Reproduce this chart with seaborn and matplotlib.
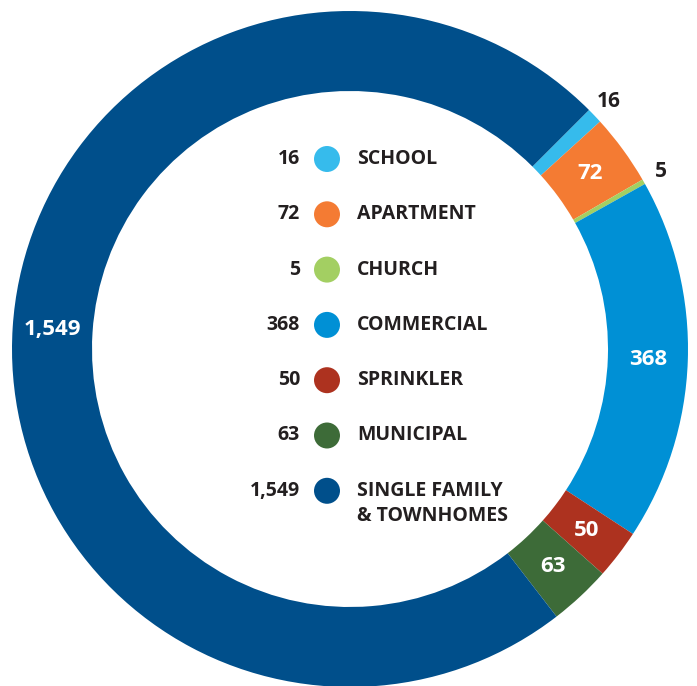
import matplotlib
matplotlib.use("Agg")
import matplotlib.pyplot as plt
import seaborn as sns
import pandas as pd
import numpy as np

categories = ["SCHOOL", "APARTMENT", "CHURCH", "COMMERCIAL", "SPRINKLER", "MUNICIPAL",
              "SINGLE FAMILY\n& TOWNHOMES"]
values = [16, 72, 5, 368, 50, 63, 1549]
value_labels = ["16", "72", "5", "368", "50", "63", "1,549"]
colors = ["#36bbec", "#f47b33", "#a3cf62", "#0090d5", "#ad321f", "#3d6b38", "#004f8b"]
label_outside = [True, False, True, False, False, False, False]

sns.set_theme(style="white")
plt.rcParams["font.family"] = ["Open Sans", "DejaVu Sans"]

W, H = 697, 686
fig = plt.figure(figsize=(W / 100, H / 100), dpi=100)
ax = fig.add_axes([0, 0, 1, 1])

cx, cy = 350, H - 349
R, r = 338, 258
ax.pie(values, colors=colors, radius=R, center=(cx, cy), startangle=45,
       counterclock=False, wedgeprops=dict(width=R - r, linewidth=0), frame=True)

total = sum(values)
cum = 0
text_dark = "#231f20"
for v, lab, out in zip(values, value_labels, label_outside):
    mid = cum + v / 2
    cum += v
    ang = np.deg2rad(45 - mid / total * 360)
    if out:
        rr = 358
        ax.text(cx + rr * np.cos(ang), cy + rr * np.sin(ang), lab, ha="center", va="center",
                fontsize=15, fontweight="bold", color=text_dark)
    else:
        rr = (R + r) / 2
        ax.text(cx + rr * np.cos(ang), cy + rr * np.sin(ang), lab, ha="center", va="center",
                fontsize=16, fontweight="bold", color="white")

# legend in the middle
row_y = [H - (159 + i * 55.3) for i in range(len(categories))]
df = pd.DataFrame({"x": [327] * len(categories), "y": row_y, "cat": categories})
sns.scatterplot(data=df, x="x", y="y", hue="cat", palette=colors, s=350, linewidth=0,
                legend=False, ax=ax)
fs = 14
for yy, cat, lab in zip(row_y, categories, value_labels):
    ax.text(300, yy, lab, ha="right", va="center", fontsize=fs, fontweight="bold",
            color=text_dark)
    lines = cat.split("\n")
    for k, line in enumerate(lines):
        ax.text(357, yy - 25 * k, line, ha="left", va="center", fontsize=fs,
                fontweight="bold", color=text_dark)

ax.set_xlim(0, W)
ax.set_ylim(0, H)
ax.set_aspect("equal")
ax.axis("off")
fig.savefig("out.png", dpi=100, facecolor="white")
